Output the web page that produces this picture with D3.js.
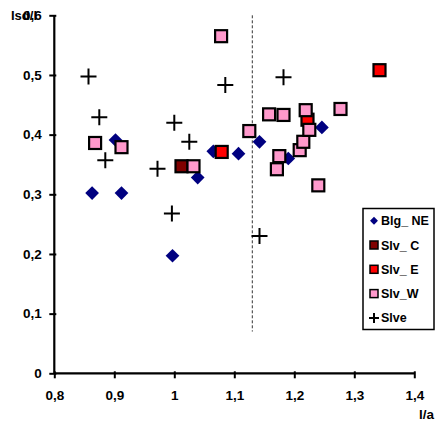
<!DOCTYPE html>
<html>
<head>
<meta charset="utf-8">
<script src="https://cdn.jsdelivr.net/npm/d3@7"></script>
<style>
  body { margin: 0; background: #fff; }
  text { font-family: "Liberation Sans", Arial, sans-serif; font-weight: bold; }
</style>
</head>
<body>
<div id="chart"></div>
<script>
// data
const blgNE = [[0.863, 0.302], [0.912, 0.302], [0.902, 0.391], [0.997, 0.197], [1.039, 0.328],
  [1.065, 0.372], [1.107, 0.368], [1.142, 0.388], [1.246, 0.412], [1.19, 0.36]];
const slvC = [[1.012, 0.347]];
const slvE = [[1.079, 0.371], [1.342, 0.508], [1.222, 0.425]];
const slvW = [[1.078, 0.565], [0.868, 0.386], [0.912, 0.379], [1.032, 0.347], [1.125, 0.406],
  [1.158, 0.434], [1.182, 0.433], [1.175, 0.364], [1.171, 0.342], [1.209, 0.374],
  [1.215, 0.388], [1.225, 0.408], [1.219, 0.441], [1.277, 0.443], [1.24, 0.315]];
const slve = [[0.857, 0.4975], [0.875, 0.429], [0.885, 0.357], [0.972, 0.343], [1.025, 0.388],
  [1.0, 0.42], [1.085, 0.483], [1.182, 0.496], [0.996, 0.268], [1.142, 0.23]];
const threshold = [[1.13, 0.6], [1.13, 0.07]];
const xTicks = [0.8, 0.9, 1, 1.1, 1.2, 1.3, 1.4];
const yTicks = [0, 0.1, 0.2, 0.3, 0.4, 0.5, 0.6];
const seriesNames = ["Blg_ NE", "Slv_ C", "Slv_ E", "Slv_W", "Slve"];

let width = 435, height = 425;

let svg = d3.select("#chart").append("svg")
  .attr("width", width).attr("height", height);

let x = d3.scaleLinear().domain([0.8, 1.4]).range([54.3, 414.3]);
let y = d3.scaleLinear().domain([0, 0.6]).range([373.3, 15.3]);

let fmt = (d) => String(d).replace(".", ",");

// dashed vertical line
svg.append("path")
  .attr("d", d3.line().x((d) => x(d[0])).y((d) => y(d[1]))(threshold))
  .attr("stroke", "#333").attr("stroke-width", 1)
  .attr("stroke-dasharray", "3,2").attr("fill", "none");

// axes
let xAxis = svg.append("g").attr("transform", `translate(0,${y(0)})`)
  .call(d3.axisBottom(x).tickValues(xTicks).tickFormat(fmt).tickSize(5).tickPadding(12));
let yAxis = svg.append("g").attr("transform", `translate(${x(0.8)},0)`)
  .call(d3.axisLeft(y).tickValues(yTicks).tickFormat(fmt).tickSize(5).tickPadding(7.5));
[xAxis, yAxis].forEach((g) => {
  g.select(".domain").attr("stroke", "#000").attr("stroke-width", 2.2);
  g.selectAll(".tick line").attr("stroke", "#000").attr("stroke-width", 2);
  g.selectAll(".tick text").attr("fill", "#000").style("font-size", "13.5px")
    .style("font-family", "'Liberation Sans', Arial, sans-serif").style("font-weight", "bold");
});
xAxis.select(".domain").attr("d", `M${x(0.8)},0H${x(1.4)}`);
yAxis.select(".domain").attr("d", `M0,${y(0)}V${y(0.6)}`);
// ticks cross the axis a little
xAxis.selectAll(".tick line").attr("y1", -2);
yAxis.selectAll(".tick line").attr("x1", 2);

// axis titles
svg.append("text").attr("x", 11).attr("y", 20).style("font-size", "13px").text("Isd/l");
svg.append("text").attr("x", 434).attr("y", 419).attr("text-anchor", "end")
  .style("font-size", "13.5px").text("l/a");

// markers
let diamond = d3.symbol().type(d3.symbolDiamond2).size(120);
let plus = "M-8,0H8M0,-8V8";

let plot = svg.append("g");

plot.selectAll(".blg").data(blgNE).join("path")
  .attr("d", diamond)
  .attr("transform", (d) => `translate(${x(d[0])},${y(d[1])})`)
  .attr("fill", "#000080");

function squares(data, color) {
  plot.selectAll(null).data(data).join("rect")
    .attr("x", (d) => x(d[0]) - 6).attr("y", (d) => y(d[1]) - 6)
    .attr("width", 12).attr("height", 12)
    .attr("fill", color).attr("stroke", "#000").attr("stroke-width", 2.2);
}
squares(slvC, "#800000");
squares(slvE, "#ff0000");
squares(slvW, "#ff99cc");

plot.selectAll(".slve").data(slve).join("path")
  .attr("d", plus)
  .attr("transform", (d) => `translate(${x(d[0])},${y(d[1])})`)
  .attr("stroke", "#000").attr("stroke-width", 2).attr("fill", "none");

// legend
let legend = svg.append("g");
legend.append("rect").attr("x", 363).attr("y", 208.5).attr("width", 71).attr("height", 121)
  .attr("fill", "#fff").attr("stroke", "#000").attr("stroke-width", 1.5);
let legendColors = ["#000080", "#800000", "#ff0000", "#ff99cc", null];
seriesNames.forEach((name, i) => {
  let cy = 220.7 + i * 24.3, cx = 374;
  if (i == 0) {
    legend.append("path").attr("d", d3.symbol().type(d3.symbolDiamond2).size(40))
      .attr("transform", `translate(${cx},${cy})`).attr("fill", legendColors[i]);
  } else if (i < 4) {
    legend.append("rect").attr("x", cx - 4).attr("y", cy - 4).attr("width", 8).attr("height", 8)
      .attr("fill", legendColors[i]).attr("stroke", "#000").attr("stroke-width", 1.5);
  } else {
    legend.append("path").attr("d", "M-5,0H5M0,-5V5")
      .attr("transform", `translate(${cx},${cy})`)
      .attr("stroke", "#000").attr("stroke-width", 2);
  }
  legend.append("text").attr("x", 381).attr("y", cy + 4.5)
    .style("font-size", "12.5px").text(name);
});
</script>
</body>
</html>
